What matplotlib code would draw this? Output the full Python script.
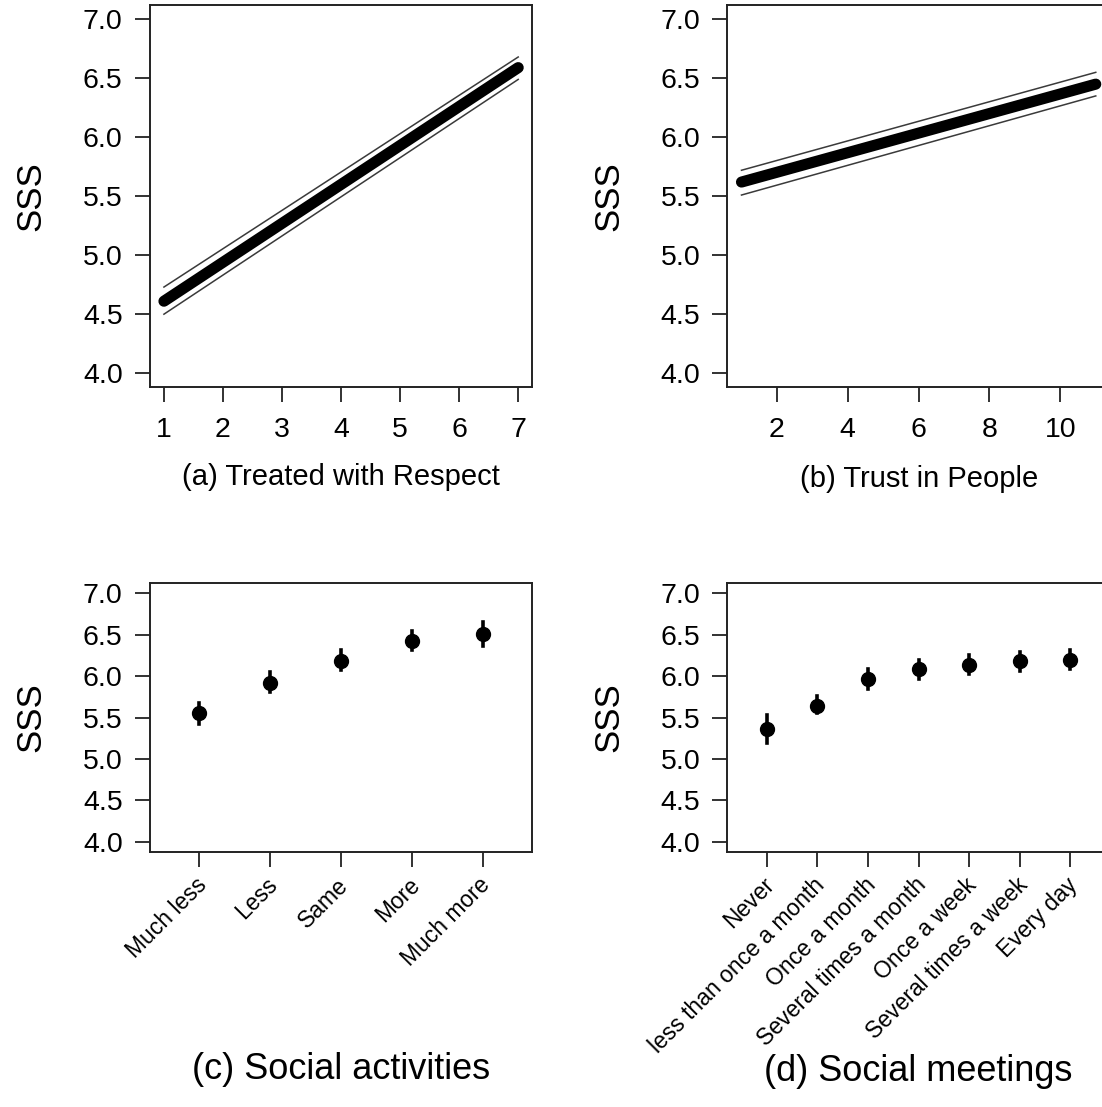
import matplotlib
matplotlib.use('Agg')
import matplotlib.pyplot as plt
from matplotlib.transforms import ScaledTranslation

plt.rcParams['font.family'] = ['Liberation Sans', 'DejaVu Sans']

# (a) treated with respect: fitted line and its interval
respect_x = [1, 7]
respect_fit = [4.61, 6.59]
respect_lo = [4.50, 6.49]
respect_hi = [4.73, 6.68]

# (b) trust in people
trust_x = [1, 11]
trust_fit = [5.62, 6.45]
trust_lo = [5.51, 6.35]
trust_hi = [5.72, 6.55]

# (c) social activities
acts = ['Much less', 'Less', 'Same', 'More', 'Much more']
acts_mean = [5.55, 5.92, 6.18, 6.42, 6.51]
acts_lo = [5.42, 5.81, 6.07, 6.31, 6.36]
acts_hi = [5.68, 6.05, 6.31, 6.54, 6.65]

# (d) social meetings
meet = ['Never', 'less than once a month', 'Once a month', 'Several times a month',
        'Once a week', 'Several times a week', 'Every day']
meet_mean = [5.36, 5.64, 5.97, 6.08, 6.13, 6.18, 6.20]
meet_lo = [5.19, 5.55, 5.85, 5.97, 6.02, 6.06, 6.08]
meet_hi = [5.53, 5.76, 6.08, 6.20, 6.25, 6.29, 6.31]

yticks = [4.0, 4.5, 5.0, 5.5, 6.0, 6.5, 7.0]

fig = plt.figure(figsize=(11.02, 11.07), dpi=100)


def base_axes(pos):
    ax = fig.add_axes(pos)
    for s in ax.spines.values():
        s.set_linewidth(1.4)
        s.set_color('#222222')
    ax.set_ylim(3.88, 7.12)
    ax.set_yticks(yticks)
    ax.set_yticklabels(['%.1f' % v for v in yticks])
    ax.tick_params(axis='y', length=10.5, width=1.3, pad=9, labelsize=20.5,
                   color='#222222')
    ax.tick_params(axis='x', length=10.5, width=1.3, pad=11, labelsize=20.5,
                   color='#222222')
    ax.set_ylabel('SSS', fontsize=25, va='center')
    ax.yaxis.set_label_coords(-0.31, 0.5)
    return ax


def line_panel(ax, x, fit, lo, hi):
    ax.plot(x, lo, color='#3a3a3a', lw=1.1)
    ax.plot(x, hi, color='#3a3a3a', lw=1.1)
    ax.plot(x, fit, color='black', lw=8, solid_capstyle='round')


def point_panel(ax, labels, mean, lo, hi):
    n = range(1, len(labels) + 1)
    for i, m, l, h in zip(n, mean, lo, hi):
        ax.plot([i, i], [l, h], color='black', lw=2.6)
    ax.plot(list(n), mean, 'o', color='black', markersize=10, linestyle='none')
    ax.set_xticks(list(n))
    ax.set_xticklabels(labels, rotation=45, ha='right', va='center',
                       rotation_mode='anchor', fontsize=16.5)
    # labels sit a bit below and right of the tick, as in the original
    shift = ScaledTranslation(0.04, 0.0, fig.dpi_scale_trans)
    for lab in ax.get_xticklabels():
        lab.set_transform(lab.get_transform() + shift)


top_b, top_h = 0.6501, 0.3453
bot_b, bot_h = 0.2306, 0.2425
w = 0.3472

ax = base_axes([0.1359, top_b, w, top_h])
line_panel(ax, respect_x, respect_fit, respect_lo, respect_hi)
ax.set_xlim(0.76, 7.24)
ax.set_xticks([1, 2, 3, 4, 5, 6, 7])
ax.set_xlabel('(a) Treated with Respect', fontsize=21, va='center')
ax.xaxis.set_label_coords(0.5, -0.235)

ax = base_axes([0.660, top_b, w, top_h])
line_panel(ax, trust_x, trust_fit, trust_lo, trust_hi)
ax.set_xlim(0.6, 11.4)
ax.set_xticks([2, 4, 6, 8, 10])
ax.set_xlabel('(b) Trust in People', fontsize=21, va='center')
ax.xaxis.set_label_coords(0.5, -0.24)

ax = base_axes([0.1359, bot_b, w, bot_h])
point_panel(ax, acts, acts_mean, acts_lo, acts_hi)
ax.set_xlim(0.3, 5.7)
ax.set_xlabel('(c) Social activities', fontsize=26, va='center')
ax.xaxis.set_label_coords(0.5, -0.81)

ax = base_axes([0.660, bot_b, w, bot_h])
point_panel(ax, meet, meet_mean, meet_lo, meet_hi)
ax.set_xlim(0.22, 7.78)
ax.set_xlabel('(d) Social meetings', fontsize=26, va='center')
ax.xaxis.set_label_coords(0.5, -0.82)

fig.savefig('out.png', dpi=100)
